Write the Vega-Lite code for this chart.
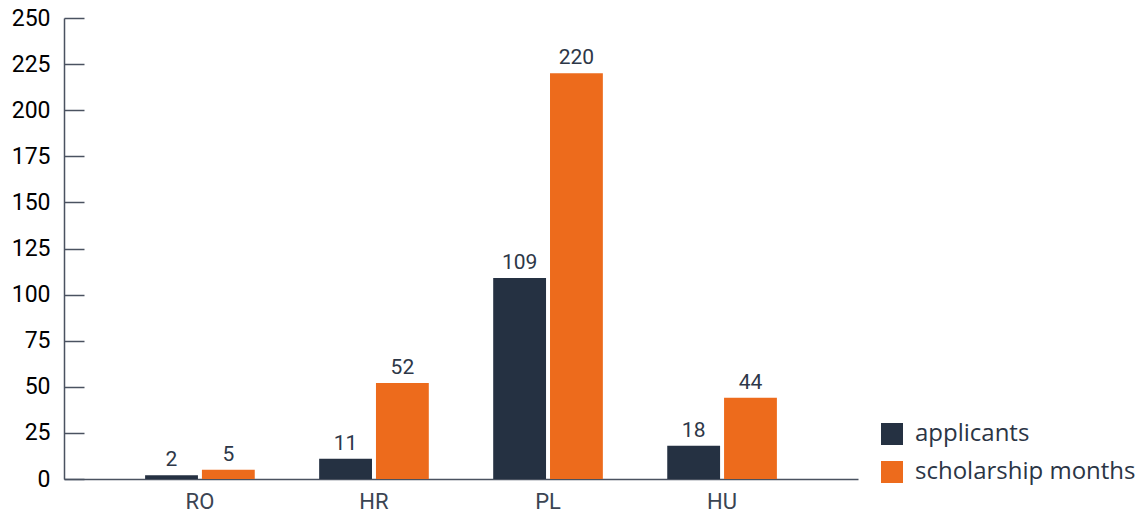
{
  "$schema": "https://vega.github.io/schema/vega-lite/v6.json",
  "autosize": {"type": "none"},
  "padding": {"left": 64, "top": 18, "right": 282, "bottom": 34},
  "width": 794,
  "height": 461,
  "config": {"view": {"stroke": null}},
  "data": {
    "values": [
      {"country": "RO", "series": "applicants", "value": 2},
      {"country": "RO", "series": "scholarship months", "value": 5},
      {"country": "HR", "series": "applicants", "value": 11},
      {"country": "HR", "series": "scholarship months", "value": 52},
      {"country": "PL", "series": "applicants", "value": 109},
      {"country": "PL", "series": "scholarship months", "value": 220},
      {"country": "HU", "series": "applicants", "value": 18},
      {"country": "HU", "series": "scholarship months", "value": 44}
    ]
  },
  "encoding": {
    "x": {
      "field": "country", "type": "nominal", "sort": ["RO", "HR", "PL", "HU"],
      "scale": {"paddingInner": 0.37, "paddingOuter": 0.466},
      "axis": {
        "title": null, "labelAngle": 0, "ticks": false, "domainColor": "#4a5260", "domainWidth": 1.5,
        "labelColor": "#3b4452", "labelFontSize": 22, "labelFont": "Roboto", "labelPadding": 12
      }
    },
    "xOffset": {"field": "series", "type": "nominal", "scale": {"paddingInner": 0.07, "paddingOuter": 0}},
    "y": {
      "field": "value", "type": "quantitative",
      "scale": {"domain": [0, 250], "nice": false},
      "axis": {
        "title": null, "values": [0, 25, 50, 75, 100, 125, 150, 175, 200, 225, 250],
        "grid": false, "tickSize": -20, "tickColor": "#4a5260", "tickWidth": 1.5,
        "domainColor": "#4a5260", "domainWidth": 1.5,
        "labelColor": "#000000", "labelFontSize": 23, "labelFont": "Roboto", "labelPadding": 34
      }
    }
  },
  "layer": [
    {
      "mark": {"type": "bar"},
      "encoding": {
        "color": {
          "field": "series", "type": "nominal",
          "scale": {"domain": ["applicants", "scholarship months"], "range": ["#253142", "#ed6b1c"]},
          "legend": {
            "title": null, "orient": "none", "legendX": 816, "legendY": 404,
            "symbolType": "square", "symbolSize": 484, "symbolStrokeWidth": 0,
            "labelFontSize": 24, "labelFont": "Open Sans", "labelColor": "#2b3545", "labelOffset": 11,
            "labelLimit": 400, "rowPadding": 14
          }
        }
      }
    },
    {
      "mark": {"type": "text", "baseline": "alphabetic", "dy": -9, "fontSize": 21, "font": "Roboto", "color": "#2d3748"},
      "encoding": {"text": {"field": "value", "type": "quantitative"}}
    }
  ]
}
